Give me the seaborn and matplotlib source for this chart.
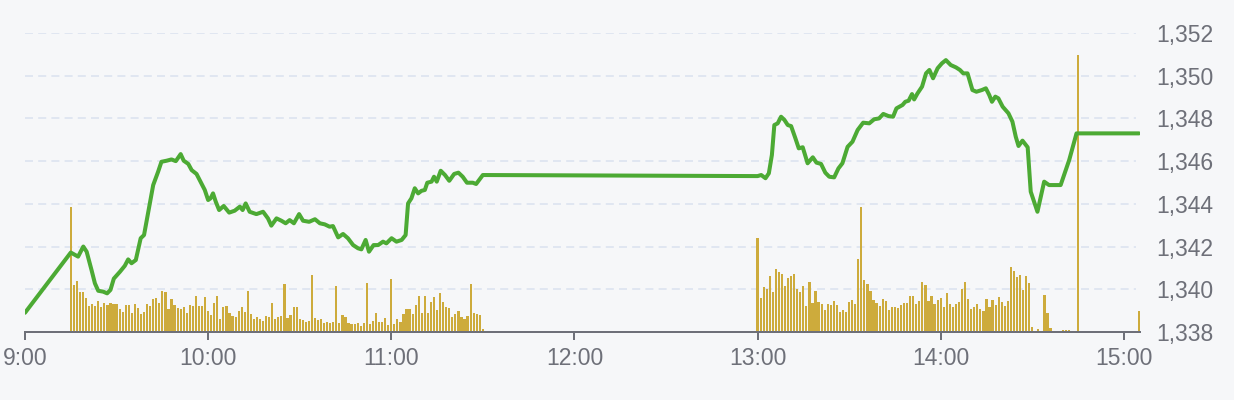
import matplotlib
matplotlib.use("Agg")
import matplotlib.pyplot as plt
import matplotlib.transforms as mtransforms
import pandas as pd
import seaborn as sns

# price trace (minutes after 9:00, price)
price_min = [0, 15, 17.4, 19.1, 20.2, 21.8, 22.9, 24, 25.6, 26.9, 28, 29.1, 31.1, 32.7,
             33.8, 34.9, 36.3, 37.9, 39, 40.4, 42, 43.6, 44.7, 46.4, 48, 49.4, 51, 52,
             53.5, 54.6, 56.2, 57.8, 58.9, 60, 60.8, 61.6, 62.5, 63.6, 65.1, 66.9, 68.7,
             70.4, 71.3, 72.3, 73.6, 75.8, 78, 79.6, 80.7, 82.4, 84, 85.4, 86.7, 88.1,
             89.8, 91.1, 93.1, 95, 96.6, 98.2, 99.8, 100.9, 102.6, 104.2, 105.8, 107.5,
             109.1, 110.2, 111.6, 112.7, 114.2, 115.7, 117.3, 118.4, 120.1, 121.7, 123.4,
             124.7, 125.5, 126.6, 127.7, 128.8, 129.9, 131, 131.8, 133.2, 134, 134.9,
             136.2, 137.6, 139, 140.6, 142, 143.4, 144.8, 146.7, 147.8, 150,
             240, 241.2, 242.6, 243.7, 244.7, 245.5, 246.6, 247.7, 248.8, 249.9, 251,
             252.4, 253.5, 254.8, 256.4, 258.1, 259.3, 260.8, 262.2, 263.5, 265.1, 266.5,
             267.8, 269.5, 271.1, 272.8, 274.6, 276.6, 278.2, 279.8, 281.2, 282.9, 284.4,
             285.5, 287.5, 288.4, 289.5, 290.6, 291.3, 292.4, 293.9, 295.2, 296.3, 297.5,
             299, 300.4, 301.7, 303.3, 305, 306.3, 307.4, 308.8, 310.4, 311.7, 313.5,
             314.8, 315.9, 316.8, 317.9, 318.9, 320.3, 322.2, 323.5, 324.6, 325.5, 326.8,
             328.5, 329.5, 331.7, 333.9, 335.5, 339.3, 342.1, 344.5, 365]
price_val = [1338.90, 1341.72, 1341.53, 1342.0, 1341.76, 1340.9, 1340.28, 1339.93, 1339.89,
             1339.81, 1339.97, 1340.5, 1340.82, 1341.1, 1341.4, 1341.22, 1341.37, 1342.39,
             1342.54, 1343.63, 1344.88, 1345.5, 1345.97, 1346.02, 1346.08, 1346.0, 1346.33,
             1346.02, 1345.87, 1345.58, 1345.4, 1344.96, 1344.65, 1344.18, 1344.26, 1344.49,
             1344.1, 1343.71, 1343.9, 1343.59, 1343.68, 1343.87, 1343.71, 1344.02, 1343.63,
             1343.52, 1343.63, 1343.32, 1342.98, 1343.32, 1343.21, 1343.09, 1343.24,
             1343.09, 1343.52, 1343.21, 1343.16, 1343.28, 1343.09, 1343.04, 1342.93,
             1342.96, 1342.43, 1342.59, 1342.39, 1342.07, 1341.92, 1341.87, 1342.31,
             1341.76, 1342.07, 1342.07, 1342.23, 1342.15, 1342.39, 1342.23, 1342.31,
             1342.54, 1344.02, 1344.26, 1344.73, 1344.49, 1344.61, 1344.65, 1344.99,
             1345.04, 1345.27, 1345.04, 1345.55, 1345.35, 1345.08, 1345.4, 1345.46,
             1345.27, 1344.99, 1344.99, 1344.93, 1345.35,
             1345.3, 1345.35, 1345.2, 1345.43, 1346.29, 1347.69, 1347.77, 1348.08, 1347.93,
             1347.69, 1347.64, 1347.07, 1346.6, 1346.65, 1345.9, 1346.18, 1345.93, 1345.87,
             1345.46, 1345.27, 1345.24, 1345.66, 1345.9, 1346.67, 1346.91, 1347.46, 1347.8,
             1347.77, 1347.96, 1348.0, 1348.21, 1348.11, 1348.08, 1348.47, 1348.63,
             1348.78, 1348.83, 1349.14, 1348.89, 1349.17, 1349.49, 1350.11, 1350.27,
             1349.88, 1350.35, 1350.58, 1350.73, 1350.5, 1350.39, 1350.27, 1350.11,
             1350.11, 1349.33, 1349.25, 1349.33, 1349.41, 1349.1, 1348.78, 1349.02,
             1348.94, 1348.55, 1348.24, 1347.85, 1347.14, 1346.71, 1346.96, 1346.65,
             1344.57, 1343.63, 1345.04, 1344.88, 1344.88, 1346.05, 1347.3, 1347.3]

# per-minute volume, morning session starts 9:15
am_start = 15
am_vol = [124.7, 47, 51, 39.7, 40, 33.7, 26.3, 28, 26, 31, 24.7, 28.7, 26.7, 28.7, 28, 28.3,
          23, 20, 26.7, 27, 18.7, 28, 24.3, 18.3, 20, 28, 26, 33, 34.3, 29, 41, 40, 23.3,
          32.7, 26.7, 23.7, 23, 24.7, 19, 26.7, 26.3, 35.7, 26.3, 26.3, 35, 21, 17, 28.7,
          36.3, 13, 25, 26, 18.7, 16, 15.3, 21, 25.3, 20, 41, 18, 13, 14.7, 13.3, 11.3, 16,
          14.7, 28.7, 12.7, 15, 16, 47.7, 13.7, 16.7, 25.3, 24.7, 13.3, 12, 10, 11, 57,
          13.7, 12, 12.7, 8.7, 10, 8.7, 9.7, 46.3, 8.7, 17, 15.3, 8.7, 8.3, 8.3, 9.3, 6,
          9.3, 48.7, 8, 11, 18.7, 10.3, 10, 14, 7, 53, 8.3, 12.7, 10, 17.7, 23.3, 23.3,
          17.7, 26.7, 35.7, 19, 36, 19, 30.3, 34.7, 22, 38.7, 29.7, 25.3, 23.7, 15, 17.7,
          21, 15.3, 13, 15.7, 48.3, 18.7, 18, 17, 2.7]
# afternoon session starts 13:00
pm_start = 240
pm_vol = [94.3, 34.3, 45, 42.7, 56.3, 39.7, 63, 60.3, 58, 45.7, 53.7, 55.7, 58, 43, 40.3,
          45.7, 26, 50.3, 28.7, 41, 29.7, 27.7, 22, 28, 27, 31, 27, 20, 21.7, 20.3, 30, 32,
          28, 73, 125.3, 51.7, 48.3, 41.3, 32, 28.7, 26, 33, 31, 21.7, 25, 24.7, 24.3, 26.7,
          29.3, 29.3, 36, 36, 28, 31, 50, 47, 31, 36.3, 28, 32.3, 33.7, 24.7, 38.7, 28,
          24.7, 27.7, 30.3, 43.3, 50, 32.7, 23.3, 25.3, 27.7, 23, 21, 33, 24.7, 32, 27, 35,
          30, 26, 31, 65, 61, 55, 56.7, 42.3, 55.7, 49, 5]
late_min = [332, 334, 335, 336, 340, 341, 342, 345, 365]
late_vol = [3, 36.7, 18.7, 4, 2, 2, 2, 277, 21]

hour_ticks = [0, 60, 120, 180, 240, 300, 360]
hour_labels = ["9:00", "10:00", "11:00", "12:00", "13:00", "14:00", "15:00"]
price_ticks = [1338, 1340, 1342, 1344, 1346, 1348, 1350, 1352]

vol_min = ([am_start + i for i in range(len(am_vol))]
           + [pm_start + i for i in range(len(pm_vol))] + late_min)
vol = pd.DataFrame({"minute": vol_min, "volume": am_vol + pm_vol + late_vol})
price = pd.DataFrame({"minute": price_min, "price": price_val})

bg = "#f6f7f9"
green = "#4caa34"
gold = "#cdab3c"
axis_grey = "#6e7079"

sns.set_theme(style="white")
plt.rcParams["font.family"] = ["Liberation Sans", "DejaVu Sans"]

fig = plt.figure(figsize=(12.34, 4.0), dpi=100, facecolor=bg)
ax_v = fig.add_axes([25 / 1234, 68 / 400, 1115 / 1234, 299 / 400])
ax_v.set_facecolor(bg)
ax_p = ax_v.twinx()

# dashed price grid, drawn under the bars
trans = mtransforms.blended_transform_factory(ax_v.transAxes, ax_p.transData)
for t in price_ticks[1:]:
    ax_v.plot([0, 0.9965], [t, t], transform=trans, color="#e0e6f1", lw=1.44,
              ls=(0, (4, 2.6)), zorder=0)

sns.barplot(data=vol, x="minute", y="volume", native_scale=True, width=0.72,
            color=gold, saturation=1, linewidth=0, errorbar=None, ax=ax_v, zorder=2)
sns.lineplot(data=price, x="minute", y="price", color=green, lw=2.9, ax=ax_p)

ax_v.set_xlim(0, 365.3)
ax_v.set_ylim(0, 299)
ax_p.set_ylim(1338, 1352)

ax_v.set_xticks(hour_ticks)
ax_v.set_xticklabels(hour_labels)
ax_v.set_yticks([])
ax_v.tick_params(axis="x", length=5.8, width=1.44, color=axis_grey, pad=5,
                 labelsize=16.5, labelcolor=axis_grey, bottom=True)
ax_p.set_yticks(price_ticks)
ax_p.set_yticklabels([f"{v:,}" for v in price_ticks])
ax_p.tick_params(axis="y", length=0, pad=12, labelsize=16.5, labelcolor=axis_grey)

for a in (ax_v, ax_p):
    a.set_xlabel("")
    a.set_ylabel("")
    for s in a.spines.values():
        s.set_visible(False)
ax_v.spines["bottom"].set_visible(True)
ax_v.spines["bottom"].set_color(axis_grey)
ax_v.spines["bottom"].set_linewidth(1.44)
ax_v.spines["bottom"].set_zorder(3)

fig.savefig("out.png", dpi=100, facecolor=bg)
